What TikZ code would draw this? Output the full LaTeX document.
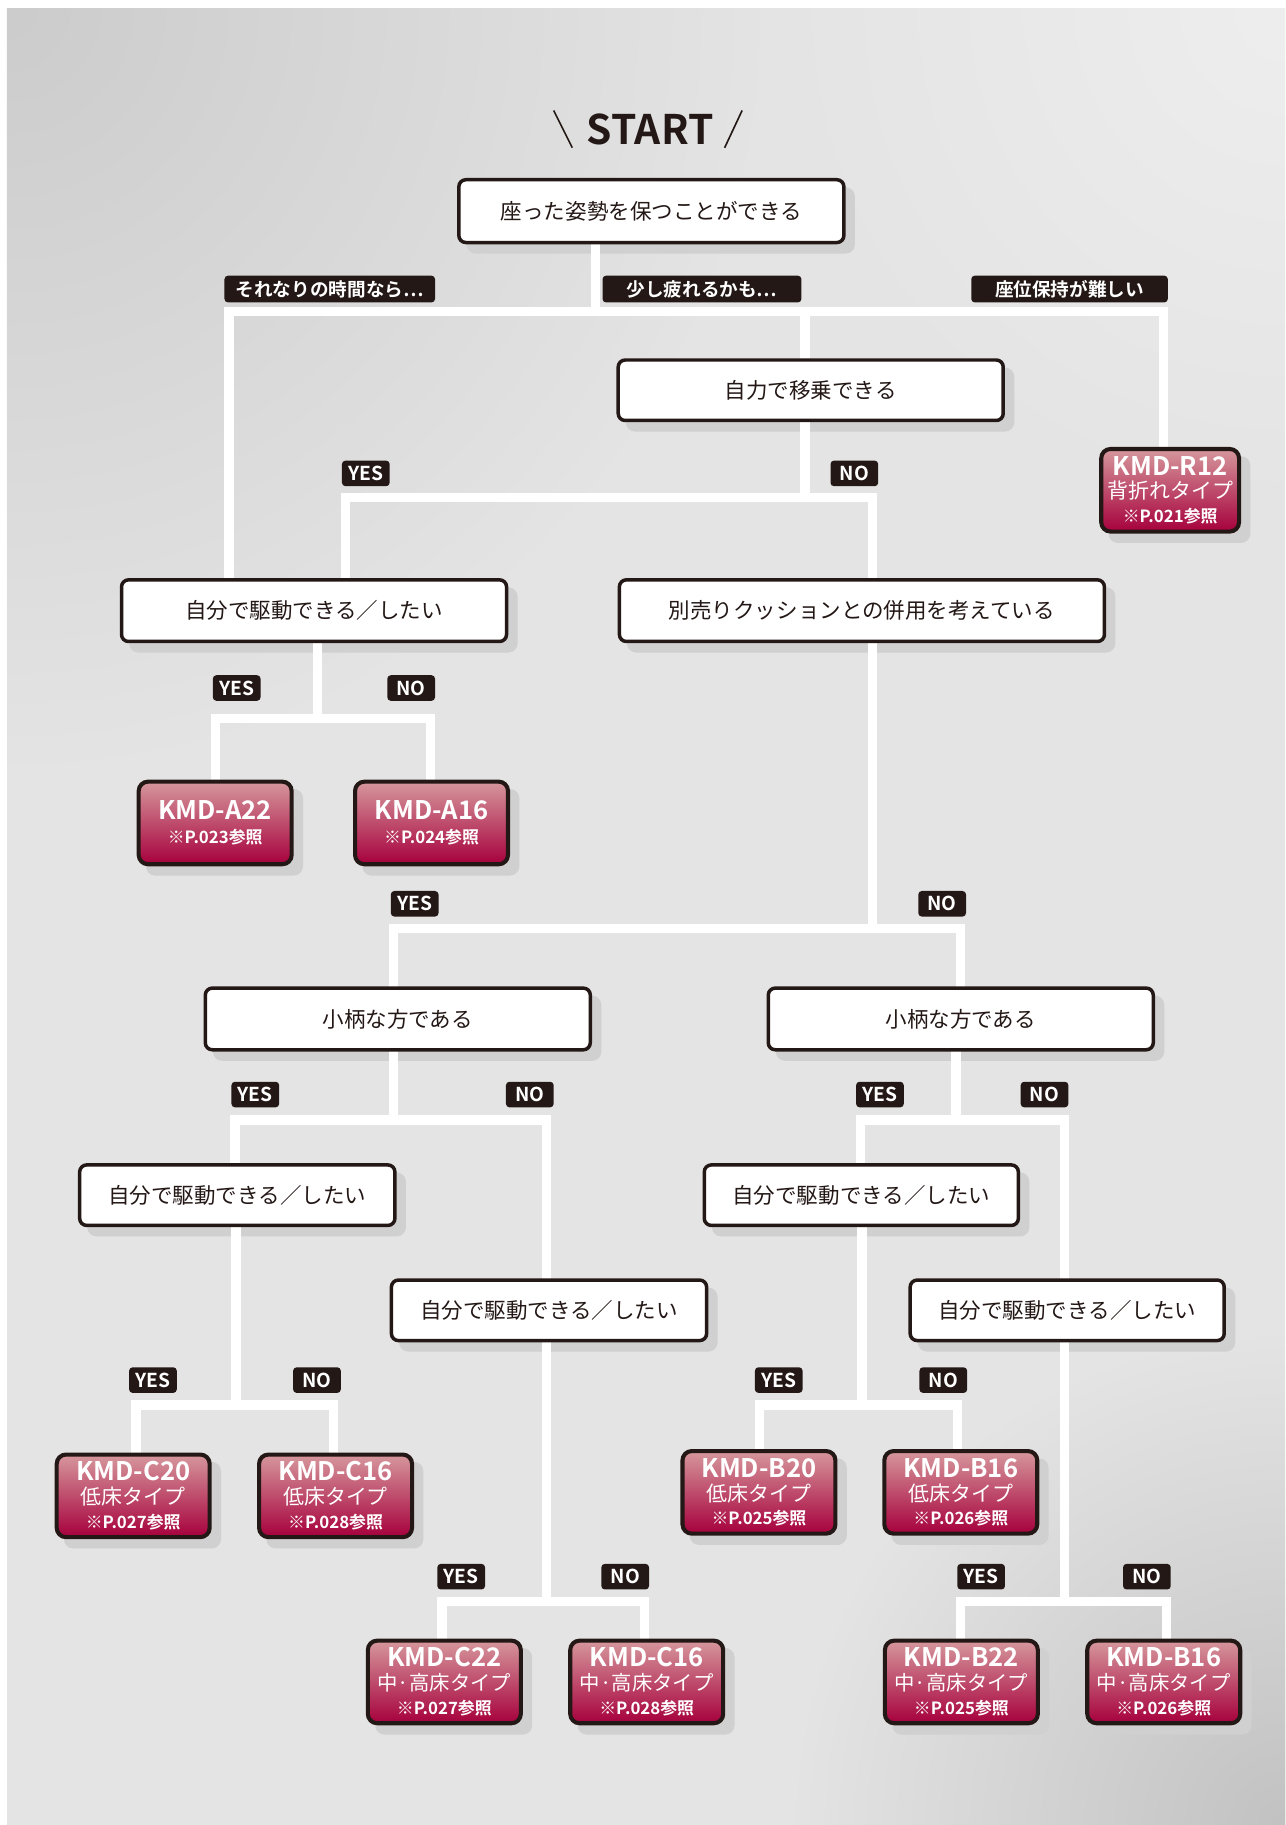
\documentclass[tikz,border=0pt]{standalone}
\usepackage{fontspec}
\setmainfont{Noto Sans CJK JP}[BoldFont={Noto Sans CJK JP Bold}]
\usetikzlibrary{fadings}
\pgfdeclarelayer{bglayer}
\pgfdeclarelayer{shadowlayer}
\pgfdeclarelayer{connlayer}
\pgfsetlayers{bglayer,shadowlayer,connlayer,main}
\definecolor{bgc}{HTML}{E4E4E4}
\definecolor{bgdark}{HTML}{CCCCCC}
\definecolor{bgdarkb}{HTML}{C2C2C2}
\definecolor{bglight}{HTML}{EEEEEE}
\definecolor{shadowc}{HTML}{D0D0D0}
\definecolor{ink}{HTML}{231815}
\definecolor{redtop}{HTML}{D6979C}
\definecolor{redbot}{HTML}{A6003C}
\tikzfading[name=cornerfade, inner color=transparent!0, outer color=transparent!100]
\newcommand{\kmd}[1]{{\fontsize{22}{20.5}\selectfont\bfseries #1}}
\newcommand{\ktype}[1]{{\fontsize{18}{20.5}\selectfont #1}}
\newcommand{\ktypeb}[1]{{\fontsize{17.5}{20.5}\selectfont #1}}
\newcommand{\kref}[1]{{\fontsize{14.5}{20.5}\selectfont\bfseries #1}}
\newcommand{\branch}[7]{%
  \coordinate (#1-s) at (#2,#3);
  \coordinate (#1-l) at (#5,#3);
  \coordinate (#1-r) at (#7,#3);
  \draw[conn] (#1.south -| #1-s) -- (#1-s);
  \draw[conn] (#4.north -| #1-l) |- (#1-r) -- (#6.north -| #1-r);}
\tikzset{
  qbox/.style={draw=ink, line width=3pt, fill=white, rounded corners=6pt,
    inner sep=0pt, text=ink, font=\fontsize{18.5}{22}\selectfont},
  mbox/.style={draw=ink, line width=3.5pt, top color=redtop, bottom color=redbot,
    rounded corners=8pt, minimum width=131.5pt, minimum height=71pt, inner sep=0pt,
    align=center, text=white, font=\fontsize{18}{20.5}\selectfont},
  tag/.style={fill=ink, rounded corners=3pt, text=white, inner sep=0pt,
    minimum height=23pt, font=\fontsize{16}{18}\selectfont\bfseries},
  yn/.style={tag, minimum width=41pt, minimum height=22pt, font=\fontsize{16.5}{18}\selectfont\bfseries},
  conn/.style={draw=white, line width=8pt, line cap=rect, line join=miter},
}
\begin{document}
\begin{tikzpicture}[x=1pt, y=-1pt]
\useasboundingbox (0,0) rectangle (1105,1569);
\begin{pgfonlayer}{bglayer}
  \fill[white] (0,0) rectangle (1105,1569);
  \begin{scope}
    \clip (6,7) rectangle (1105,1569);
    \fill[bgc] (6,7) rectangle (1105,1569);
    \fill[bgdark, path fading=cornerfade] (6,7) circle (650);
    \fill[bglight, path fading=cornerfade] (1105,7) circle (450);
    \fill[bgdarkb, path fading=cornerfade] (1105,1569) circle (420);
  \end{scope}
\end{pgfonlayer}

% START
\node[text=ink, font=\fontsize{35}{40}\selectfont\bfseries] (start) at (559,111) {START};
\draw[ink, line width=1.4pt] (476,95) -- (492,127);
\draw[ink, line width=1.4pt] (638,95) -- (623,127);

% question boxes
\node[qbox, minimum width=331pt, minimum height=54pt] (q1) at (560,181.5) {座った姿勢を保つことができる};
\node[qbox, minimum width=331pt, minimum height=52pt] (q2) at (697,335.5) {自力で移乗できる};
\node[qbox, minimum width=331pt, minimum height=53pt] (q3) at (270,525) {自分で駆動できる／したい};
\node[qbox, minimum width=417pt, minimum height=53pt] (q4) at (741,525) {別売りクッションとの併用を考えている};
\node[qbox, minimum width=331pt, minimum height=53pt] (q5) at (342,876) {小柄な方である};
\node[qbox, minimum width=331pt, minimum height=53pt] (q6) at (826,876) {小柄な方である};
\node[qbox, minimum width=271pt, minimum height=52pt] (q7) at (204,1027.5) {自分で駆動できる／したい};
\node[qbox, minimum width=271pt, minimum height=52pt] (q8) at (472,1126.5) {自分で駆動できる／したい};
\node[qbox, minimum width=270pt, minimum height=52pt] (q9) at (740.5,1027.5) {自分で駆動できる／したい};
\node[qbox, minimum width=270pt, minimum height=52pt] (q10) at (917.5,1126.5) {自分で駆動できる／したい};

% model boxes
\node[mbox, minimum width=118.5pt] (r12) at (1006,421.5) {\kmd{KMD-R12}\\\ktype{背折れタイプ}\\\kref{※P.021参照}};
\node[mbox] (a22) at (185,707.5) {\kmd{KMD-A22}\\\kref{※P.023参照}};
\node[mbox] (a16) at (371,707.5) {\kmd{KMD-A16}\\\kref{※P.024参照}};
\node[mbox] (c20) at (114.5,1286) {\kmd{KMD-C20}\\\ktype{低床タイプ}\\\kref{※P.027参照}};
\node[mbox] (c16l) at (288.5,1286) {\kmd{KMD-C16}\\\ktype{低床タイプ}\\\kref{※P.028参照}};
\node[mbox] (c22) at (382,1446) {\kmd{KMD-C22}\\\ktypeb{中·高床タイプ}\\\kref{※P.027参照}};
\node[mbox] (c16h) at (556,1446) {\kmd{KMD-C16}\\\ktypeb{中·高床タイプ}\\\kref{※P.028参照}};
\node[mbox] (b20) at (652.5,1283) {\kmd{KMD-B20}\\\ktype{低床タイプ}\\\kref{※P.025参照}};
\node[mbox] (b16l) at (826,1283) {\kmd{KMD-B16}\\\ktype{低床タイプ}\\\kref{※P.026参照}};
\node[mbox] (b22) at (826.5,1446) {\kmd{KMD-B22}\\\ktypeb{中·高床タイプ}\\\kref{※P.025参照}};
\node[mbox] (b16h) at (1000.5,1446) {\kmd{KMD-B16}\\\ktypeb{中·高床タイプ}\\\kref{※P.026参照}};

% tags
\node[tag, minimum width=181pt] (t1) at (283.5,248.5) {それなりの時間なら…};
\node[tag, minimum width=171pt] (t2) at (603.5,248.5) {少し疲れるかも…};
\node[tag, minimum width=169pt] (t3) at (919.5,248.5) {座位保持が難しい};
\node[yn] (y1) at (314.5,407) {YES};
\node[yn] (n1) at (734.5,407) {NO};
\node[yn] (y2) at (203.5,591.5) {YES};
\node[yn] (n2) at (353.5,591.5) {NO};
\node[yn] (y3) at (356.5,777) {YES};
\node[yn] (n3) at (810,777) {NO};
\node[yn] (y4) at (219.5,941) {YES};
\node[yn] (n4) at (455.5,941) {NO};
\node[yn] (y5) at (756.5,941) {YES};
\node[yn] (n5) at (898,941) {NO};
\node[yn] (y6) at (131.5,1186.5) {YES};
\node[yn] (n6) at (272.5,1186.5) {NO};
\node[yn] (y7) at (669.5,1186.5) {YES};
\node[yn] (n7) at (811,1186.5) {NO};
\node[yn] (y8) at (396.5,1355.5) {YES};
\node[yn] (n8) at (537.5,1355.5) {NO};
\node[yn] (y9) at (843.5,1355.5) {YES};
\node[yn] (n9) at (986,1355.5) {NO};

% shadows
\begin{pgfonlayer}{shadowlayer}
  \foreach \n in {q1,q2,q3,q4,q5,q6,q7,q8,q9,q10,r12,a22,a16,c20,c16l,c22,c16h,b20,b16l,b22,b16h}
    \fill[shadowc, rounded corners=8pt] ([shift={(8,8)}]\n.south west) rectangle ([shift={(8,8)}]\n.north east);
\end{pgfonlayer}

% connectors
\begin{pgfonlayer}{connlayer}
  \branch{q1}{512}{268}{q3}{197}{r12}{1000}
  \coordinate (q1-m) at (692,268);
  \draw[conn] (q1-m) -- (q2.north -| q1-m);
  \branch{q2}{692}{428}{q3}{297}{q4}{750}
  \branch{q3}{273}{618}{a22}{185}{a16}{370}
  \branch{q4}{750}{798}{q5}{338}{q6}{826}
  \branch{q5}{338}{963}{q7}{202}{q8}{470}
  \branch{q7}{203}{1208}{c20}{117}{c16l}{287}
  \branch{q8}{470}{1377}{c22}{380}{c16h}{554}
  \branch{q6}{822}{963}{q9}{740}{q10}{915}
  \branch{q9}{741}{1208}{b20}{653}{b16l}{823}
  \branch{q10}{915}{1377}{b22}{826}{b16h}{1003}
\end{pgfonlayer}
\end{tikzpicture}
\end{document}
